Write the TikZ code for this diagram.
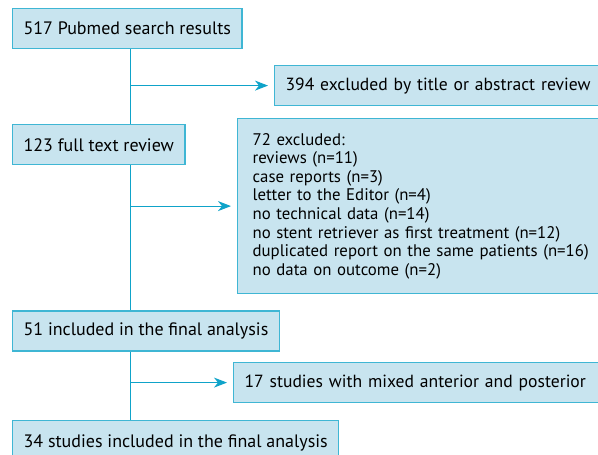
\documentclass[tikz,border=0pt]{standalone}
\usepackage{fontspec}
\setmainfont{PT Sans}
\usepackage{xcolor}
\usetikzlibrary{arrows.meta, positioning}
\definecolor{boxfill}{HTML}{C8E4EF}
\definecolor{boxline}{HTML}{3FB6D4}
\definecolor{flowline}{HTML}{0FA3C9}
\tikzset{
  % Flow chart styles
  stage/.style={rectangle, draw=boxline, fill=boxfill, line width=1.2pt, minimum height=40pt, inner xsep=11pt, align=left, anchor=north west, font=\fontsize{18}{18.6}\selectfont},
  sidebox/.style={stage, text width=420pt, font=\fontsize{17.6}{18.6}\selectfont},
  trunk/.style={draw=flowline, line width=1pt},
  arrow/.style={trunk, -{Stealth[length=13pt, width=10pt, inset=4pt]}, shorten >=6pt},
}
\begin{document}
\begin{tikzpicture}[x=1pt, y=1pt]
    \useasboundingbox (0,0) rectangle (598,455);
    \clip (0,0) rectangle (598,455);

    % Main column
    \node[stage] (pubmed) at (12,447) {517 Pubmed search results};
    \node[stage, below=75pt of pubmed.south west, anchor=north west] (fulltext) {123 full text review};
    \node[stage, below=145pt of fulltext.south west, anchor=north west] (included) {51 included in the final analysis};
    \node[stage, minimum height=46pt, below=68pt of included.south west, anchor=north west] (final) {34 studies included in the final analysis};

    % Excluded boxes
    \node[sidebox] (title) at (274,390) {394 excluded by title or abstract review};
    \node[sidebox, minimum height=175pt, inner xsep=15pt, font=\fontsize{16.8}{18.6}\selectfont] (reasons) at (237,337) {72 excluded:\\
      reviews (n=11)\\
      case reports (n=3)\\
      letter to the Editor (n=4)\\
      no technical data (n=14)\\
      no stent retriever as first treatment (n=12)\\
      duplicated report on the same patients (n=16)\\
      no data on outcome (n=2)};
    \node[sidebox] (mixed) at (233,93) {17 studies with mixed anterior and posterior};

    % Trunk and arrows
    \draw[trunk] (130,0 |- pubmed.south) -- (130,0 |- fulltext.north);
    \draw[trunk] (130,0 |- fulltext.south) -- (130,0 |- included.north);
    \draw[trunk] (130,0 |- included.south) -- (130,0 |- final.north);
    \coordinate (j1) at (130,0 |- title.west);
    \coordinate (j2) at (130,0 |- reasons.west);
    \coordinate (j3) at (130,0 |- mixed.west);
    \draw[arrow] (j1) -- (title.west);
    \draw[arrow] (j2) -- (reasons.west);
    \draw[arrow] (j3) -- (mixed.west);
\end{tikzpicture}
\end{document}
